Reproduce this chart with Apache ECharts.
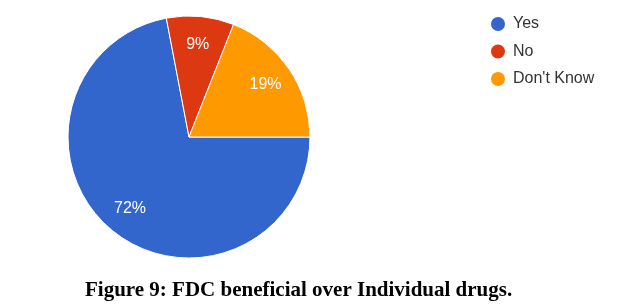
<!DOCTYPE html>
<html>
<head>
<meta charset="utf-8">
<script src="https://cdn.jsdelivr.net/npm/echarts@6/dist/echarts.min.js"></script>
<style>
  html, body { margin: 0; padding: 0; background: #fff; }
  #grafico { width: 627px; height: 307px; }
</style>
</head>
<body>
<div id="grafico"></div>
<script>
var nomes = ['Yes', 'No', "Don't Know"];
var dados = [72, 9, 19];
var cores = ['#3366cc', '#dc3912', '#ff9900'];

var myChart = echarts.init(document.getElementById('grafico'));

var fatias = nomes.map(function (n, i) {
  return { name: n, value: dados[i] };
});

var option = {
  animation: false,
  color: cores,
  title: {
    text: 'Figure 9: FDC beneficial over Individual drugs.',
    left: 85,
    top: 280,
    padding: 0,
    textStyle: {
      fontFamily: 'Liberation Serif',
      fontWeight: 'bold',
      fontSize: 21,
      color: '#000'
    }
  },
  legend: {
    orient: 'vertical',
    left: 489,
    top: 15,
    padding: 0,
    icon: 'circle',
    itemWidth: 16,
    itemHeight: 16,
    itemGap: 9.5,
    data: nomes,
    textStyle: {
      fontFamily: 'Liberation Sans',
      fontSize: 16,
      color: '#333',
      padding: [0, 0, 0, 2]
    }
  },
  series: [
    {
      type: 'pie',
      center: [189, 137],
      radius: [0, 121],
      startAngle: 0,
      clockwise: true,
      label: { show: false },
      labelLine: { show: false },
      itemStyle: { borderColor: '#fff', borderWidth: 1 },
      emphasis: { disabled: true },
      data: fatias
    },
    {
      // only for the percent labels, placed further out
      type: 'pie',
      center: [189, 137],
      radius: [58, 121],
      startAngle: 0,
      clockwise: true,
      silent: true,
      itemStyle: { color: 'rgba(0,0,0,0)' },
      label: {
        show: true,
        position: 'inside',
        formatter: '{c}%',
        color: '#fff',
        fontFamily: 'Liberation Sans',
        fontSize: 16
      },
      labelLine: { show: false },
      emphasis: { disabled: true },
      data: fatias
    }
  ]
};

myChart.setOption(option);
</script>
</body>
</html>
